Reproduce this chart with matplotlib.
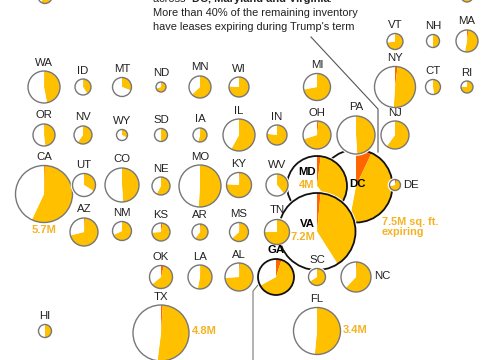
import matplotlib
matplotlib.use("Agg")
import matplotlib.pyplot as plt
from matplotlib.patches import Circle

plt.rcParams['font.family'] = ['Liberation Sans', 'DejaVu Sans']

YELLOW = "#FFC000"
ORANGE = "#FF6600"
LABEL = "#F5B324"
GREY = "#777777"
TEXT = "#222222"

# share of sq ft expiring before / during the term
states = ["DC", "MD", "VA",
          "AK", "ME", "VT", "NH", "MA",
          "WA", "ID", "MT", "ND", "MN", "WI", "MI", "NY", "CT", "RI",
          "OR", "NV", "WY", "SD", "IA", "IL", "IN", "OH", "PA", "NJ",
          "CA", "UT", "CO", "NE", "MO", "KY", "WV", "DE",
          "AZ", "NM", "KS", "AR", "MS", "TN",
          "OK", "LA", "AL", "GA", "SC", "NC",
          "HI", "TX", "FL"]
before = [0.07, 0.02, 0.015,
          0, 0, 0, 0, 0.02,
          0.005, 0.01, 0, 0.03, 0, 0, 0, 0.02, 0, 0,
          0.01, 0, 0, 0, 0.01, 0, 0, 0.02, 0, 0,
          0.005, 0, 0, 0, 0, 0.01, 0, 0.05,
          0.01, 0, 0.03, 0.02, 0.01, 0,
          0.04, 0.005, 0.01, 0.05, 0, 0.01,
          0, 0.01, 0]
during = [0.46, 0.37, 0.395,
          0.6, 0.6, 0.73, 0.5, 0.51,
          0.465, 0.40, 0.31, 0.67, 0.63, 0.76, 0.72, 0.49, 0.48, 0.75,
          0.47, 0.6, 0.33, 0.5, 0.53, 0.58, 0.77, 0.68, 0.49, 0.6,
          0.565, 0.34, 0.49, 0.58, 0.51, 0.75, 0.39, 0.67,
          0.70, 0.68, 0.71, 0.58, 0.62, 0.75,
          0.60, 0.525, 0.73, 0.62, 0.66, 0.61,
          0.5, 0.51, 0.515]

# tile layout in pixels
xs = [356, 317, 317,
      45, 467, 395, 433, 467,
      44, 83, 122, 161, 200, 239, 317, 395, 433, 467,
      44, 83, 122, 161, 200, 239, 277, 317, 356, 395,
      44, 84, 122, 161, 200, 239, 277, 395,
      84, 122, 161, 200, 239, 277,
      161, 200, 239, 276, 317, 356,
      45, 161, 317]
ys = [186, 186, 231.5,
      -3.5, -4, 41.5, 41, 41,
      87, 87, 87, 87, 87, 87, 87, 87, 87, 87,
      135, 135, 135, 135, 135, 135, 135, 135, 135, 135,
      194, 185, 185, 186, 186, 185, 185, 185,
      232, 231, 232, 232, 232, 232,
      277, 277, 277, 277, 277, 277,
      331, 333, 331]
radii = [36.5, 30, 38.5,
         7, 6, 8, 6.5, 11,
         16, 8, 9.5, 5, 11, 10, 13.5, 20.5, 7.5, 6,
         11, 9, 5.5, 6.5, 7, 16, 10, 14, 19, 14,
         28.5, 11.5, 17, 9, 21, 12.5, 11, 5.5,
         14, 9.5, 9, 8, 9.5, 12.5,
         11.5, 12, 14, 18, 8.5, 15,
         6.5, 28, 23.5]

bold_states = ["DC", "MD", "VA", "GA"]
# labels that do not sit above their circle
label_spots = {"DC": (357, 184), "MD": (307, 172), "VA": (307, 224),
               "GA": (276, 250), "TN": (277, 210), "SC": (317, 260),
               "DE": (411, 185), "NC": (382, 276)}

amounts = ["5.7M", "4.8M", "3.4M", "4M", "7.2M"]
amount_x = [44, 204, 355, 307, 303]
amount_y = [230, 331, 330, 185, 237]

fig = plt.figure(figsize=(5, 3.6), dpi=100)
ax = fig.add_axes([0, 0, 1, 1])

for i, st in enumerate(states):
    x, y, r = xs[i], ys[i], radii[i]
    z = 2 + i * 3
    is_bold = st in bold_states
    ax.add_patch(Circle((x, y), r + 1.8, fc="white", ec="none", zorder=z))
    rest = 1 - before[i] - during[i]
    # y axis is flipped, so -90 is 12 o'clock and angles run clockwise
    ax.pie([before[i], during[i], rest], colors=[ORANGE, YELLOW, "white"],
           center=(x, y), radius=r, startangle=-90, counterclock=True,
           frame=True, normalize=True, wedgeprops={"zorder": z + 1, "lw": 0})
    ax.add_patch(Circle((x, y), r, fc="none", ec="#111111" if is_bold else GREY,
                        lw=1.3 if is_bold else 1.0, zorder=z + 2))
    lx, ly = label_spots.get(st, (x, y - r - 8.5))
    # AK and ME sit above the crop, their labels are not in the picture
    if ly < 0:
        continue
    ax.text(lx, ly, st, ha="center", va="center", fontsize=8.2, color="black" if is_bold else TEXT,
            fontweight="bold" if is_bold else "normal", zorder=300)

for i, a in enumerate(amounts):
    ax.text(amount_x[i], amount_y[i], a, ha="center", va="center", fontsize=8,
            color=LABEL, fontweight="bold", zorder=300)
ax.text(382, 227, "7.5M sq. ft.\nexpiring", ha="left", va="center", fontsize=7.8,
        color=LABEL, fontweight="bold", linespacing=1.05, zorder=300)

# leader lines
ax.plot([311, 378, 378], [37, 109, 152], color="#555555", lw=0.8, zorder=1)
ax.plot([258, 253, 253], [285, 291, 360], color="#777777", lw=0.8, zorder=1)

ax.set_xlim(0, 500)
ax.set_ylim(360, 0)
ax.axis("off")

# intro text, with bold runs. first line is cut by the top edge like the original
fig.canvas.draw()
rend = fig.canvas.get_renderer()
cur = 153
for part, weight in [("across ", "normal"), ("DC, Maryland and Virginia", "bold"), (".", "normal")]:
    t = ax.text(cur, -0.5, part, fontsize=7.9, color=TEXT, fontweight=weight, va="center", ha="left")
    cur = ax.transData.inverted().transform(t.get_window_extent(rend))[1][0]
    if part.endswith(" "):
        cur += 3
ax.text(153, 13.5, "More than 40% of the remaining inventory", fontsize=7.9, color=TEXT, va="center")
ax.text(153, 27, "have leases expiring during Trump's term", fontsize=7.9, color=TEXT, va="center")

fig.savefig("out.png", dpi=100)
